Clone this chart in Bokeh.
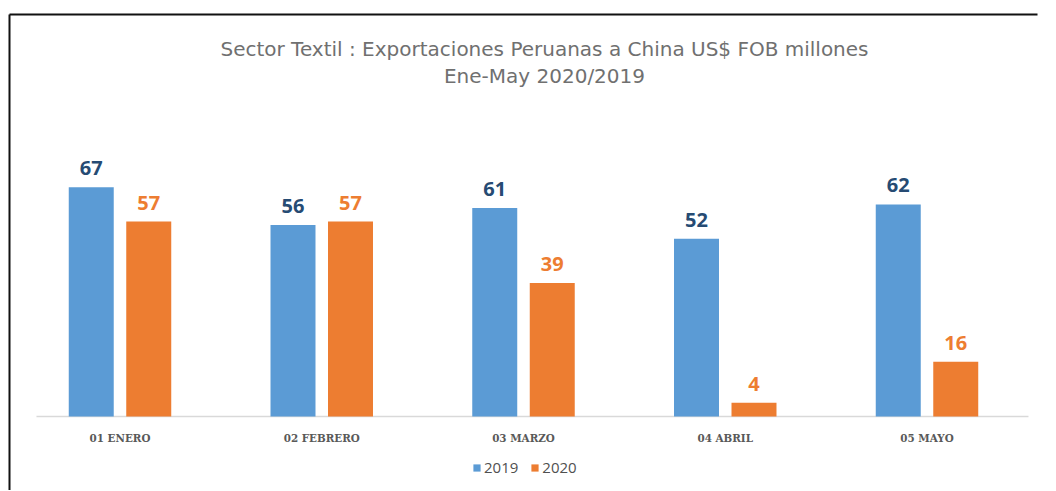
from bokeh.plotting import figure
from bokeh.models import (ColumnDataSource, FactorRange, Range1d, LabelSet, Legend,
                          LegendItem, FixedTicker)
from bokeh.core.properties import value
from bokeh.transform import dodge
from bokeh.embed import file_html
from bokeh.resources import INLINE

# ---- data ----
months = ["01 ENERO", "02 FEBRERO", "03 MARZO", "04 ABRIL", "05 MAYO"]
values_2019 = [67, 56, 61, 52, 62]
values_2020 = [57, 57, 39, 4, 16]
series_names = ["2019", "2020"]
title_lines = ["Sector Textil : Exportaciones Peruanas a China US$ FOB millones",
               "Ene-May 2020/2019"]

# ---- styles ----
C2019 = "#5B9BD5"
C2020 = "#ED7D31"
L2019 = "#264B73"
L2020 = "#ED7D31"
FONT = "Open Sans"
TFONT = "DejaVu Sans"

src = ColumnDataSource(dict(month=months, v2019=values_2019, v2020=values_2020,
                            t2019=[str(v) for v in values_2019],
                            t2020=[str(v) for v in values_2020],
                            base=[0] * len(months)))

PXU = 3.42  # pixels per unit
BASE_PX = 416  # baseline position on the page
H = 490
p = figure(width=1048, height=H,
           x_range=FactorRange(*months, range_padding=0.01908),
           y_range=Range1d(-(H - BASE_PX) / PXU, (BASE_PX - 14) / PXU),
           x_axis_location="above",
           output_backend="svg", toolbar_location=None,
           min_border_left=9, min_border_right=11, min_border_bottom=0,
           min_border_top=14)
p.background_fill_color = "white"
p.border_fill_color = "white"
p.outline_line_color = None
p.xgrid.visible = False
p.ygrid.visible = False

# axes used only as the black outer border (left + top)
for a in (p.xaxis[0], p.yaxis[0]):
    a.axis_line_color = "#111111"
    a.axis_line_width = 2
    a.major_tick_line_color = None
    a.minor_tick_line_color = None
    a.major_tick_out = 0
    a.major_tick_in = 0
    a.minor_tick_out = 0
    a.minor_tick_in = 0
    a.major_label_standoff = 0
    a.major_label_text_font_size = "0px"
    a.major_label_text_alpha = 0
p.yaxis[0].ticker = FixedTicker(ticks=[])

# category baseline (from the first to the last category)
bsrc = ColumnDataSource(dict(x0=[months[0]], x1=[months[-1]], y=[0]))
p.segment(x0=dodge("x0", -0.414, range=p.x_range), x1=dodge("x1", 0.503, range=p.x_range),
          y0="y", y1="y", source=bsrc, line_color="#D9D9D9", line_width=1.5)

off = 0.1425
bw = 0.223
r1 = p.vbar(x=dodge("month", -off, range=p.x_range), top="v2019", width=bw,
            source=src, fill_color=C2019, line_color=None)
r2 = p.vbar(x=dodge("month", off, range=p.x_range), top="v2020", width=bw,
            source=src, fill_color=C2020, line_color=None)

for xoff, col, tcol, color in [(-off, "v2019", "t2019", L2019), (off, "v2020", "t2020", L2020)]:
    p.add_layout(LabelSet(x=dodge("month", xoff, range=p.x_range), y=col, text=tcol,
                          source=src, y_offset=12, text_align="center",
                          text_baseline="bottom", text_font=value(FONT),
                          text_font_style="bold", text_font_size="20px",
                          text_color=color))

# category labels
p.add_layout(LabelSet(x="month", y="base", text="month", source=src, y_offset=-21,
                      text_align="center", text_baseline="middle",
                      text_font=value("DejaVu Serif Condensed"), text_font_style="bold",
                      text_font_size="11.5px", text_color="#595959"))

# title (two lines)
tsrc = ColumnDataSource(dict(x=[months[2], months[2]],
                             y=[(BASE_PX - 48) / PXU, (BASE_PX - 75) / PXU],
                             t=title_lines))
p.text(x=dodge("x", 0.104, range=p.x_range), y="y", text="t", source=tsrc,
       text_align="center", text_baseline="middle", text_font=value(TFONT),
       text_font_size="20px", text_color="#707070")

legend = Legend(items=[LegendItem(label=series_names[0], renderers=[r1]),
                       LegendItem(label=series_names[1], renderers=[r2])],
                orientation="horizontal", location=(463, 13),
                glyph_width=9, glyph_height=9, label_standoff=3, spacing=12,
                padding=0, margin=0, border_line_color=None,
                label_text_font=FONT, label_text_font_size="15px",
                label_text_color="#505050", background_fill_alpha=0)
p.add_layout(legend, "center")

open("out.html", "w").write(file_html(p, INLINE))
